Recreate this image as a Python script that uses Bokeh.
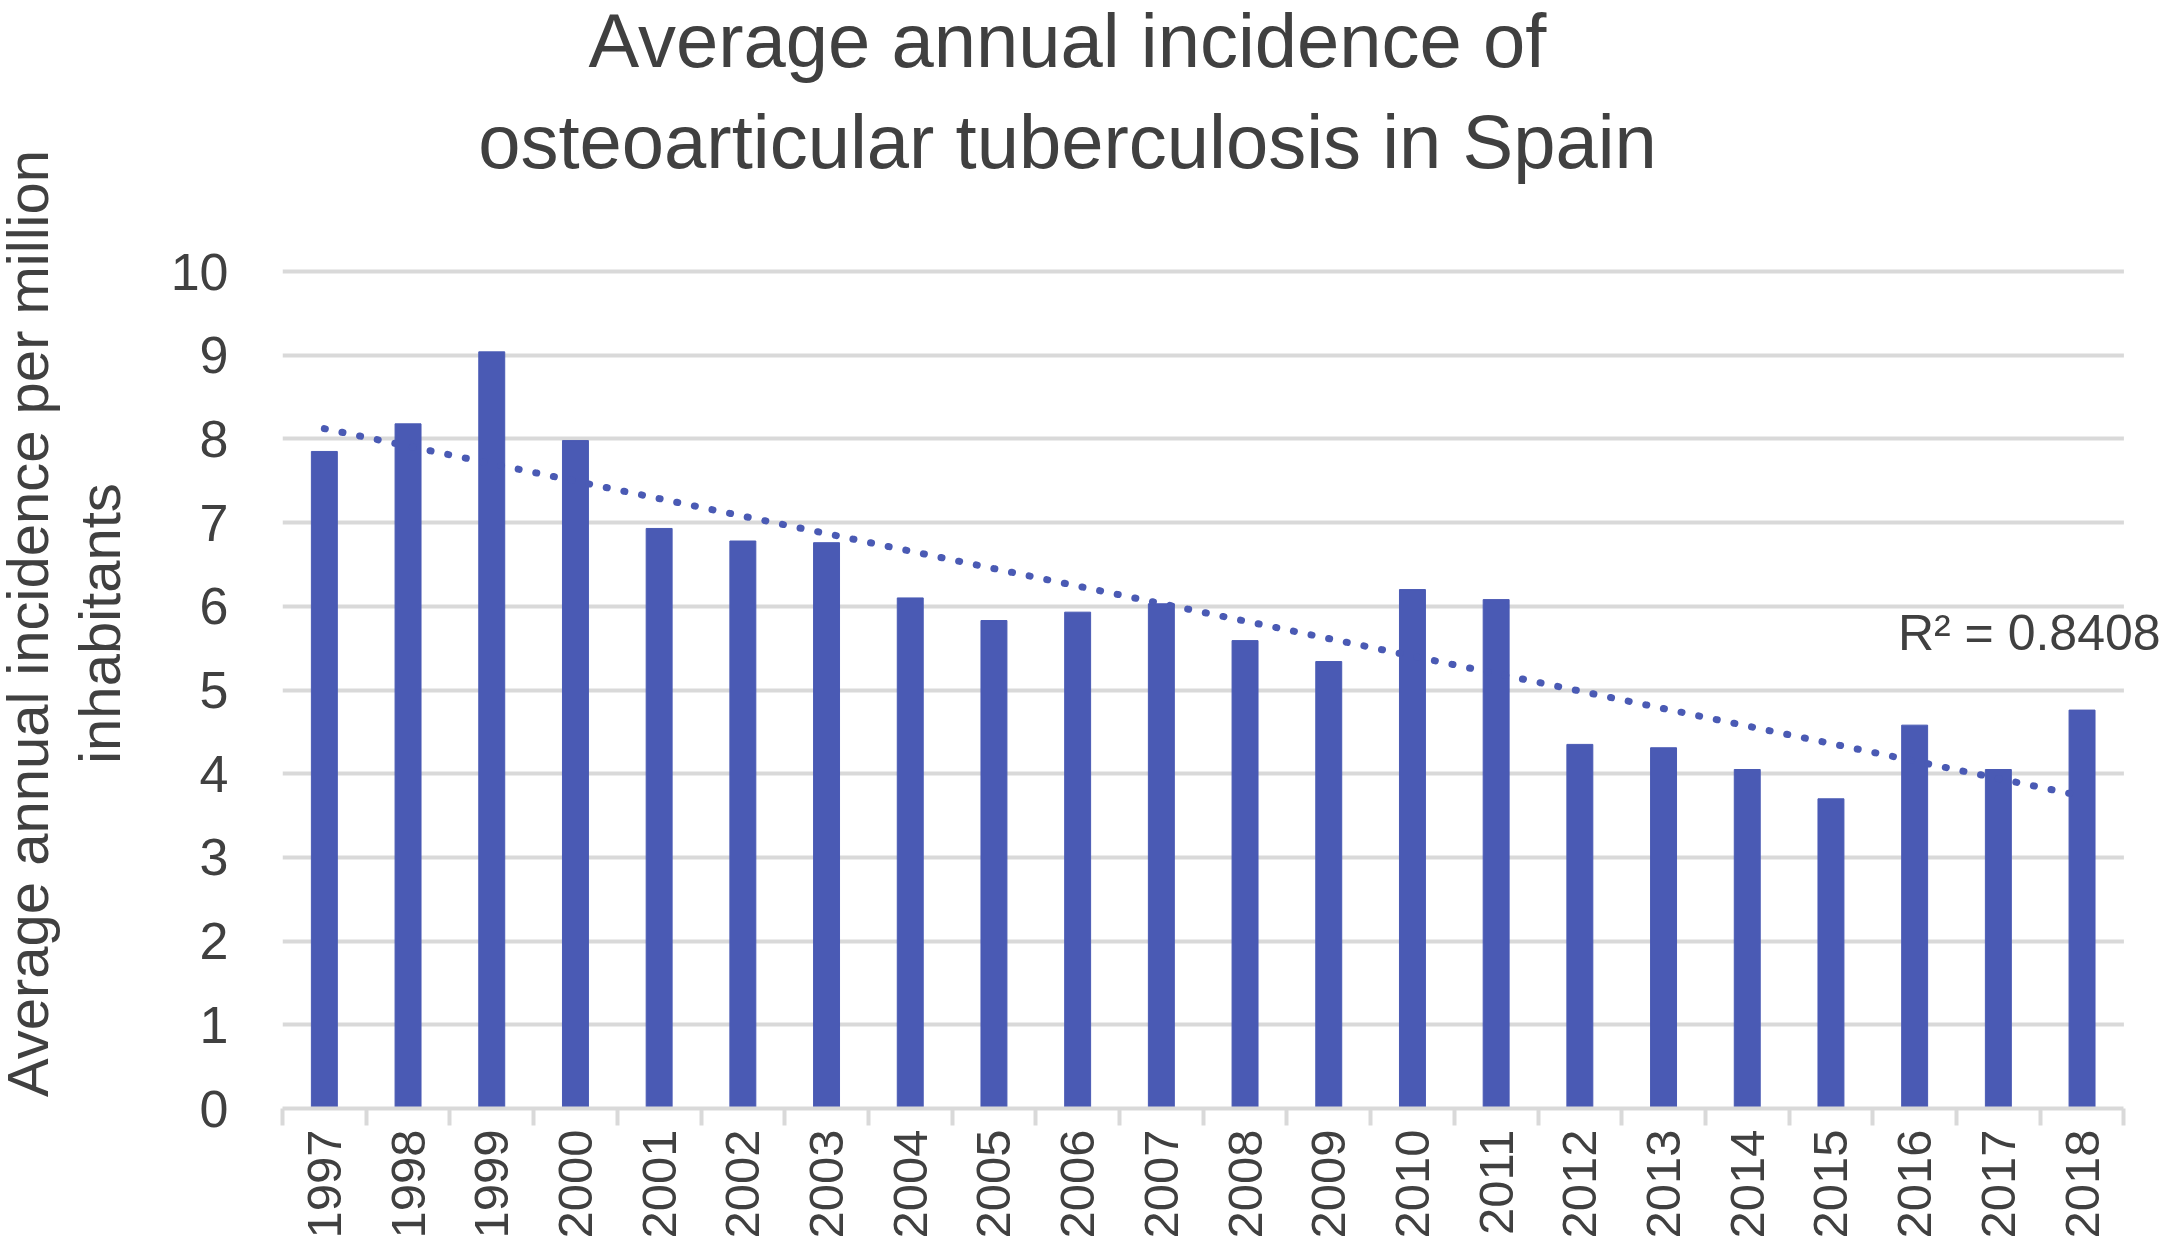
import numpy as np
from bokeh.plotting import figure
from bokeh.layouts import row
from bokeh.models import Range1d, FixedTicker, Label, BoxAnnotation
from bokeh.embed import file_html
from bokeh.resources import INLINE

# data
years = [str(y) for y in range(1997, 2019)]
incidence = [7.85, 8.18, 9.04, 7.98, 6.93, 6.78, 6.76, 6.10, 5.83, 5.93, 6.03,
             5.59, 5.34, 6.20, 6.08, 4.35, 4.31, 4.05, 3.70, 4.58, 4.05, 4.76]
y_ticks = list(range(0, 11))
r2_text = "R² = 0.8408"
title_lines = ["Average annual incidence of", "osteoarticular tuberculosis in Spain"]
ylabel_lines = ["Average annual incidence per million", "inhabitants"]

BAR = "#4a5ab4"
GRID = "#d9d9d9"
TEXT = "#404040"
FONT = "Liberation Sans"

W, H = 2163, 1256
LEFT_W = 157          # narrow strip holding the rotated axis title
MAIN_W = W - LEFT_W
BORDER_L = 125
BORDER_B = 148
PX_PER_UNIT = 83.7

frame_w = MAIN_W - BORDER_L
frame_h = H - BORDER_B

# category slots on a plain numeric scale: one unit per year
centers = [i + 0.5 for i in range(len(years))]
bounds = list(range(len(years) + 1))

p = figure(width=MAIN_W, height=H,
           x_range=Range1d(0, frame_w / PX_PER_UNIT),
           y_range=Range1d(0, frame_h / PX_PER_UNIT),
           output_backend="svg", toolbar_location=None,
           min_border_left=BORDER_L, min_border_right=0,
           min_border_top=0, min_border_bottom=BORDER_B)
p.outline_line_color = None

# horizontal grid
p.xgrid.visible = False
p.ygrid.grid_line_color = GRID
p.ygrid.grid_line_width = 4
# keep grid lines from running past the last category
p.add_layout(BoxAnnotation(left=len(years), fill_color="white", fill_alpha=1.0,
                           line_color=None, level="underlay"))

p.vbar(x=centers, top=incidence, width=0.31, color=BAR)

# linear trend (least squares, as the spreadsheet does it)
slope, icpt = np.polyfit(np.arange(len(incidence)), incidence, 1)
tx = [centers[0], centers[-1]]
ty = [icpt, icpt + slope * (len(incidence) - 1)]
p.line(tx, ty, line_color=BAR, line_width=7, line_dash="1 17", line_cap="round")

xa = p.xaxis[0]
xa.bounds = (0, len(years))
xa.ticker = FixedTicker(ticks=centers, minor_ticks=bounds)
xa.major_label_overrides = {float(c): y for c, y in zip(centers, years)}
xa.major_tick_line_color = None
xa.major_tick_out = 0
xa.major_tick_in = 0
xa.minor_tick_line_color = GRID
xa.minor_tick_line_width = 4
xa.minor_tick_in = 0
xa.minor_tick_out = 17
xa.axis_line_color = GRID
xa.axis_line_width = 4
xa.major_label_orientation = np.pi / 2
xa.major_label_standoff = 4
xa.major_label_text_font = FONT
xa.major_label_text_font_size = "49px"
xa.major_label_text_color = TEXT

ya = p.yaxis[0]
ya.ticker = FixedTicker(ticks=y_ticks)
ya.axis_line_color = None
ya.major_tick_line_color = None
ya.major_tick_out = 0
ya.minor_tick_line_color = None
ya.major_label_standoff = 54
ya.major_label_text_font = FONT
ya.major_label_text_font_size = "52px"
ya.major_label_text_color = TEXT

p.add_layout(Label(x=19.3, y=5.68, text=r2_text, text_font=FONT,
                   text_font_size="50px", text_color=TEXT,
                   text_align="left", text_baseline="alphabetic"))

# title, two centred lines (screen units are measured from the frame corner)
for txt, top in zip(title_lines, [40, 141]):
    p.add_layout(Label(x=785, y=frame_h - top, x_units="screen", y_units="screen",
                       text=txt, text_font=FONT, text_font_size="76px",
                       text_color=TEXT, text_align="center",
                       text_baseline="alphabetic"))

# strip on the left for the rotated value-axis title; same vertical borders
# as the main plot so both frames line up
side = figure(width=LEFT_W, height=H, x_range=Range1d(0, LEFT_W),
              y_range=Range1d(0, frame_h), output_backend="svg",
              toolbar_location=None, x_axis_location=None, y_axis_location=None,
              min_border_left=0, min_border_right=0, min_border_top=0,
              min_border_bottom=BORDER_B)
side.outline_line_color = None
side.grid.visible = False
for txt, xpos in zip(ylabel_lines, [27, 99]):
    side.add_layout(Label(x=xpos, y=frame_h - 623, angle=np.pi / 2, text=txt,
                          text_font=FONT, text_font_size="58px",
                          text_color=TEXT, text_align="center",
                          text_baseline="alphabetic"))

layout = row(side, p, spacing=0)
open("out.html", "w").write(file_html(layout, INLINE))
